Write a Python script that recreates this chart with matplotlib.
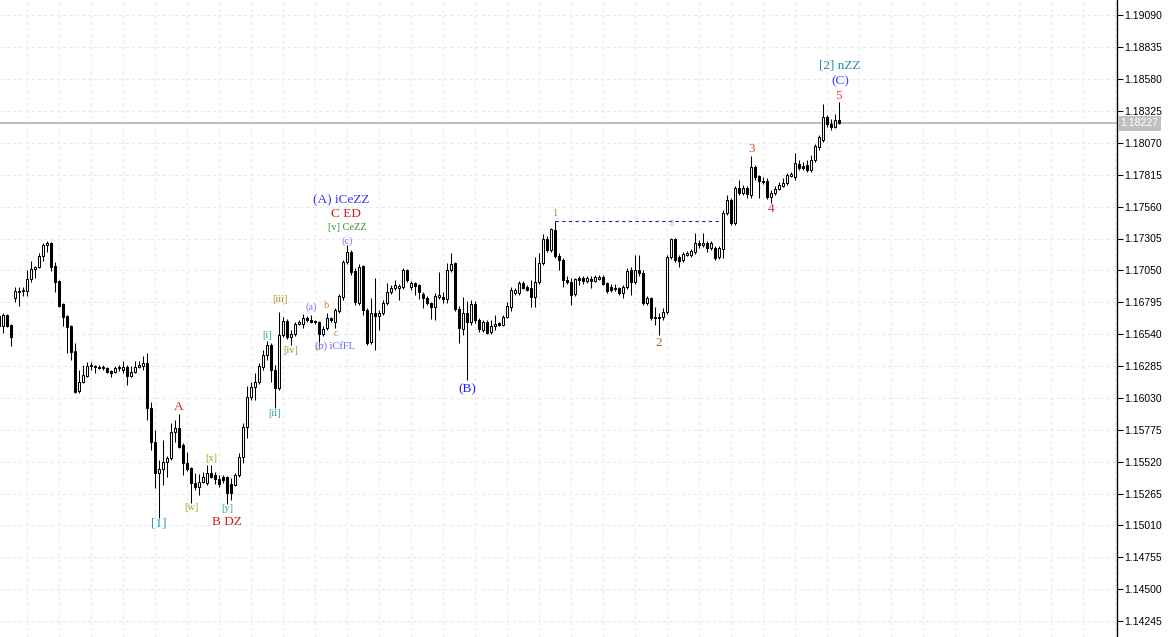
import numpy as np
import matplotlib
matplotlib.use('Agg')
import matplotlib.pyplot as plt
from matplotlib.transforms import blended_transform_factory

# -------------------- Data --------------------
FIRST_BAR = -1   # first bar is only half visible at the left edge

opens = [
    1.16685, 1.16605, 1.16693, 1.16613, 1.16829, 1.16885, 1.16885, 1.16885, 1.16981, 1.17061,
    1.17077, 1.17165, 1.17253, 1.17269, 1.17085, 1.16965, 1.16781, 1.16685, 1.16605, 1.16405,
    1.16085, 1.16157, 1.16205, 1.16285, 1.16285, 1.16277, 1.16277, 1.16269, 1.16245, 1.16237,
    1.16269, 1.16253, 1.16277, 1.16205, 1.16237, 1.16277, 1.16285, 1.16309, 1.15949, 1.15677,
    1.15429, 1.15461, 1.15517, 1.15549, 1.15757, 1.15789, 1.15653, 1.15509, 1.15469, 1.15349,
    1.15317, 1.15357, 1.15349, 1.15429, 1.15413, 1.15381, 1.15397, 1.15397, 1.15341, 1.15333,
    1.15413, 1.15557, 1.15797, 1.16037, 1.16117, 1.16157, 1.16277, 1.16373, 1.16453, 1.16253,
    1.16109, 1.16533, 1.16645, 1.16517, 1.16541, 1.16621, 1.16621, 1.16669, 1.16653, 1.16645,
    1.16637, 1.16541, 1.16589, 1.16669, 1.16637, 1.16725, 1.16837, 1.17117, 1.17197, 1.17045,
    1.16789, 1.17085, 1.16733, 1.16477, 1.16709, 1.16685, 1.16709, 1.16789, 1.16877, 1.16909,
    1.16909, 1.16917, 1.17053, 1.16917, 1.16949, 1.16933, 1.16861, 1.16829, 1.16789, 1.16757,
    1.16837, 1.16837, 1.16821, 1.17053, 1.17109, 1.16741, 1.16581, 1.16709, 1.16637, 1.16781,
    1.16653, 1.16573, 1.16637, 1.16557, 1.16605, 1.16629, 1.16613, 1.16677, 1.16757, 1.16869,
    1.16869, 1.16949, 1.16917, 1.16909, 1.16837, 1.16957, 1.17109, 1.17301, 1.17213, 1.17373,
    1.17165, 1.17133, 1.16973, 1.16957, 1.16861, 1.16989, 1.16989, 1.16965, 1.16981, 1.16965,
    1.16981, 1.16997, 1.16949, 1.16917, 1.16909, 1.16909, 1.16869, 1.16917, 1.17053, 1.16957,
    1.17053, 1.17029, 1.16789, 1.16829, 1.16677, 1.16677, 1.16677, 1.16717, 1.17157, 1.17301,
    1.17157, 1.17133, 1.17173, 1.17173, 1.17197, 1.17269, 1.17253, 1.17269, 1.17229, 1.17229,
    1.17157, 1.17221, 1.17509, 1.17613, 1.17429, 1.17709, 1.17669, 1.17709, 1.17653, 1.17877,
    1.17805, 1.17765, 1.17765, 1.17637, 1.17669, 1.17701, 1.17725, 1.17749, 1.17805, 1.17797,
    1.17901, 1.17885, 1.17893, 1.17853, 1.17933, 1.18037, 1.18093, 1.18277, 1.18221, 1.18197,
    1.18253,
]
highs = [
    1.16717, 1.16709, 1.16701, 1.16621, 1.16917, 1.16917, 1.16917, 1.17053, 1.17125, 1.17085,
    1.17189, 1.17269, 1.17285, 1.17277, 1.17117, 1.16973, 1.16789, 1.16693, 1.16613, 1.16469,
    1.16253, 1.16293, 1.16317, 1.16317, 1.16293, 1.16293, 1.16293, 1.16277, 1.16253, 1.16285,
    1.16293, 1.16325, 1.16293, 1.16285, 1.16325, 1.16325, 1.16365, 1.16389, 1.15997, 1.15773,
    1.15533, 1.15693, 1.15565, 1.15829, 1.15853, 1.15901, 1.15669, 1.15597, 1.15477, 1.15429,
    1.15421, 1.15437, 1.15493, 1.15493, 1.15437, 1.15413, 1.15413, 1.15405, 1.15389, 1.15429,
    1.15589, 1.15829, 1.16125, 1.16157, 1.16229, 1.16309, 1.16413, 1.16485, 1.16469, 1.16293,
    1.16717, 1.16677, 1.16661, 1.16573, 1.16637, 1.16653, 1.16701, 1.16685, 1.16693, 1.16653,
    1.16645, 1.16605, 1.16709, 1.16677, 1.16749, 1.16861, 1.17133, 1.17253, 1.17213, 1.17069,
    1.17101, 1.17093, 1.16749, 1.16829, 1.16989, 1.16733, 1.16813, 1.16949, 1.16933, 1.16973,
    1.16941, 1.17069, 1.17061, 1.16965, 1.16957, 1.16941, 1.16877, 1.16845, 1.16797, 1.16869,
    1.17037, 1.16877, 1.17109, 1.17189, 1.17117, 1.16765, 1.16837, 1.16805, 1.16813, 1.16805,
    1.16669, 1.16653, 1.16653, 1.16653, 1.16693, 1.16637, 1.16693, 1.16797, 1.16917, 1.16909,
    1.16965, 1.16965, 1.16933, 1.16973, 1.17157, 1.17189, 1.17341, 1.17325, 1.17389, 1.17445,
    1.17189, 1.17149, 1.17005, 1.16989, 1.16989, 1.17005, 1.17005, 1.17005, 1.17005, 1.17013,
    1.17013, 1.17013, 1.16957, 1.16941, 1.16941, 1.16917, 1.16933, 1.17069, 1.17077, 1.17173,
    1.17173, 1.17053, 1.16845, 1.16837, 1.16757, 1.16709, 1.16749, 1.17173, 1.17309, 1.17309,
    1.17173, 1.17197, 1.17205, 1.17221, 1.17349, 1.17293, 1.17349, 1.17285, 1.17285, 1.17245,
    1.17245, 1.17533, 1.17653, 1.17629, 1.17725, 1.17773, 1.17733, 1.17725, 1.17965, 1.17893,
    1.17813, 1.17797, 1.17789, 1.17693, 1.17725, 1.17757, 1.17789, 1.17829, 1.17837, 1.17989,
    1.17933, 1.17917, 1.17933, 1.17973, 1.18061, 1.18133, 1.18381, 1.18293, 1.18261, 1.18301,
    1.18397,
]
lows = [
    1.16573, 1.16549, 1.16597, 1.16445, 1.16797, 1.16765, 1.16845, 1.16845, 1.16957, 1.16989,
    1.17069, 1.17125, 1.17197, 1.17045, 1.16877, 1.16757, 1.16605, 1.16389, 1.16333, 1.16069,
    1.16069, 1.16149, 1.16197, 1.16253, 1.16229, 1.16261, 1.16253, 1.16229, 1.16197, 1.16229,
    1.16245, 1.16229, 1.16133, 1.16197, 1.16229, 1.16269, 1.16253, 1.15853, 1.15613, 1.15309,
    1.15069, 1.15333, 1.15397, 1.15533, 1.15677, 1.15629, 1.15413, 1.15445, 1.15189, 1.15293,
    1.15253, 1.15349, 1.15333, 1.15389, 1.15341, 1.15317, 1.15349, 1.15181, 1.15213, 1.15325,
    1.15397, 1.15509, 1.15709, 1.16013, 1.16013, 1.16141, 1.16253, 1.16333, 1.16157, 1.15949,
    1.16093, 1.16517, 1.16501, 1.16453, 1.16525, 1.16613, 1.16589, 1.16637, 1.16629, 1.16621,
    1.16453, 1.16525, 1.16573, 1.16637, 1.16589, 1.16709, 1.16813, 1.17101, 1.17013, 1.16773,
    1.16773, 1.16693, 1.16453, 1.16461, 1.16413, 1.16573, 1.16693, 1.16773, 1.16861, 1.16893,
    1.16813, 1.16901, 1.16957, 1.16893, 1.16853, 1.16821, 1.16749, 1.16773, 1.16661, 1.16653,
    1.16821, 1.16789, 1.16789, 1.17037, 1.16725, 1.16469, 1.16533, 1.16173, 1.16613, 1.16629,
    1.16557, 1.16557, 1.16541, 1.16541, 1.16573, 1.16605, 1.16605, 1.16669, 1.16725, 1.16853,
    1.16853, 1.16901, 1.16885, 1.16757, 1.16757, 1.16941, 1.17093, 1.17197, 1.17197, 1.17149,
    1.17053, 1.16917, 1.16941, 1.16773, 1.16845, 1.16933, 1.16941, 1.16949, 1.16909, 1.16957,
    1.16973, 1.16933, 1.16869, 1.16877, 1.16885, 1.16853, 1.16829, 1.16901, 1.16853, 1.16941,
    1.17005, 1.16773, 1.16773, 1.16653, 1.16613, 1.16533, 1.16653, 1.16701, 1.17141, 1.17117,
    1.17077, 1.17117, 1.17165, 1.17157, 1.17181, 1.17229, 1.17237, 1.17197, 1.17213, 1.17133,
    1.17141, 1.17149, 1.17493, 1.17413, 1.17413, 1.17653, 1.17653, 1.17629, 1.17629, 1.17773,
    1.17629, 1.17741, 1.17621, 1.17589, 1.17653, 1.17693, 1.17717, 1.17733, 1.17797, 1.17773,
    1.17853, 1.17853, 1.17837, 1.17837, 1.17917, 1.18013, 1.18077, 1.18197, 1.18173, 1.18189,
    1.18221,
]
closes = [
    1.16605, 1.16693, 1.16605, 1.16517, 1.16885, 1.16877, 1.16893, 1.16981, 1.17061, 1.17077,
    1.17165, 1.17253, 1.17269, 1.17077, 1.16957, 1.16765, 1.16677, 1.16597, 1.16397, 1.16077,
    1.16157, 1.16213, 1.16285, 1.16293, 1.16277, 1.16269, 1.16269, 1.16237, 1.16229, 1.16269,
    1.16277, 1.16277, 1.16205, 1.16237, 1.16277, 1.16293, 1.16309, 1.15949, 1.15677, 1.15429,
    1.15461, 1.15517, 1.15549, 1.15757, 1.15789, 1.15637, 1.15509, 1.15461, 1.15349, 1.15317,
    1.15357, 1.15397, 1.15429, 1.15397, 1.15381, 1.15341, 1.15373, 1.15269, 1.15269, 1.15413,
    1.15557, 1.15797, 1.16037, 1.16117, 1.16157, 1.16285, 1.16373, 1.16453, 1.16253, 1.16109,
    1.16533, 1.16645, 1.16517, 1.16541, 1.16621, 1.16637, 1.16669, 1.16653, 1.16637, 1.16637,
    1.16541, 1.16581, 1.16669, 1.16653, 1.16733, 1.16845, 1.17117, 1.17197, 1.17037, 1.16797,
    1.17077, 1.16733, 1.16469, 1.16709, 1.16685, 1.16709, 1.16789, 1.16877, 1.16909, 1.16933,
    1.16925, 1.17053, 1.16973, 1.16949, 1.16925, 1.16877, 1.16829, 1.16789, 1.16757, 1.16845,
    1.16853, 1.16821, 1.17053, 1.17101, 1.16741, 1.16589, 1.16709, 1.16637, 1.16781, 1.16653,
    1.16581, 1.16637, 1.16549, 1.16605, 1.16621, 1.16613, 1.16677, 1.16765, 1.16893, 1.16893,
    1.16949, 1.16909, 1.16893, 1.16837, 1.16957, 1.17109, 1.17301, 1.17213, 1.17381, 1.17165,
    1.17133, 1.16973, 1.16957, 1.16853, 1.16981, 1.16973, 1.16965, 1.16989, 1.16965, 1.16997,
    1.16997, 1.16941, 1.16885, 1.16893, 1.16901, 1.16869, 1.16917, 1.17045, 1.16957, 1.17053,
    1.17029, 1.16789, 1.16829, 1.16669, 1.16669, 1.16669, 1.16717, 1.17157, 1.17301, 1.17133,
    1.17125, 1.17181, 1.17189, 1.17205, 1.17269, 1.17253, 1.17269, 1.17229, 1.17269, 1.17149,
    1.17229, 1.17509, 1.17613, 1.17429, 1.17709, 1.17669, 1.17709, 1.17661, 1.17877, 1.17797,
    1.17765, 1.17757, 1.17637, 1.17669, 1.17701, 1.17733, 1.17749, 1.17813, 1.17821, 1.17909,
    1.17869, 1.17869, 1.17853, 1.17933, 1.18045, 1.18117, 1.18277, 1.18221, 1.18197, 1.18253,
    1.18227,
]

PRICE_TICKS = [1.19090, 1.18835, 1.18580, 1.18325, 1.18070, 1.17815, 1.17560, 1.17305,
               1.17050, 1.16795, 1.16540, 1.16285, 1.16030, 1.15775, 1.15520, 1.15265,
               1.15010, 1.14755, 1.14500, 1.14245]
LAST_PRICE = 1.18227
LEVEL_PRICE = 1.17445          # dashed level from wave 1 high
LEVEL_BARS = (138, 179)

# (text, bar, price, colour, size)
wave_labels = [
    ('(A) iCeZZ', 84.4, 1.17613, '#3030ff', 9.5),
    ('C ED', 85.7, 1.17501, '#cc2020', 9.5),
    ('[v] CeZZ', 85.9, 1.17389, '#3a8a3a', 7.5),
    ('(c)', 85.9, 1.17285, '#7878ff', 7.5),
    ('[iii]', 69.2, 1.16813, '#a09020', 7.5),
    ('[i]', 65.9, 1.16533, '#20a0a0', 7.5),
    ('[iv]', 71.9, 1.16405, '#80a020', 7.5),
    ('[ii]', 67.7, 1.15901, '#20a0a0', 7.5),
    ('(a)', 76.9, 1.16757, '#7878ff', 7.5),
    ('b', 80.9, 1.16765, '#f08020', 7.5),
    ('c', 83.2, 1.16541, '#f08020', 7.5),
    ('a', 78.7, 1.16429, '#f08020', 7.5),
    ('(b) iCfFL', 83.0, 1.16445, '#6060ff', 7.5),
    ('A', 43.9, 1.15957, '#dd2020', 9.5),
    ('[x]', 51.9, 1.15541, '#a0a020', 7.5),
    ('[w]', 46.9, 1.15149, '#a0a020', 7.5),
    ('[y]', 55.9, 1.15141, '#20a0a0', 7.5),
    ('B DZ', 55.9, 1.15037, '#cc2020', 9.5),
    ('[1]', 38.9, 1.15021, '#20a0b0', 9.5),
    ('(B)', 115.9, 1.16101, '#2020ff', 9.5),
    ('1', 137.9, 1.17509, '#a08070', 7.5),
    ('2', 163.9, 1.16469, '#b06030', 9.5),
    ('3', 187.2, 1.18021, '#d05030', 9.5),
    ('4', 191.9, 1.17541, '#d03050', 9.5),
    ('5', 208.9, 1.18445, '#e05030', 9.5),
    ('(C)', 209.2, 1.18565, '#4040ff', 9.5),
    ('[2] nZZ', 209.2, 1.18685, '#2090a0', 9.5),
    ('8', 167.2, 1.17421, '#9fb4d8', 6),
]
# ---------------------------------------------------------------

W, H = 1171, 637
AXIS_X = 1117   # pixel column of the price scale

fig = plt.figure(figsize=(W / 100, H / 100), dpi=100)
fig.patch.set_facecolor('white')
ax = fig.add_axes([0, 0, AXIS_X / W, 1])

o = np.array(opens)
h = np.array(highs)
l = np.array(lows)
c = np.array(closes)
x = np.arange(FIRST_BAR, FIRST_BAR + len(o))
up = c >= o

# wicks, then bodies on top
ax.vlines(x, l, h, color='black', lw=0.75, zorder=3)
bottom = np.minimum(o, c)
height = np.maximum(np.abs(c - o), 0.000005)
ax.bar(x[up], height[up], bottom=bottom[up], width=0.5, color='white',
       edgecolor='black', linewidth=0.75, zorder=4)
ax.bar(x[~up], height[~up], bottom=bottom[~up], width=0.5, color='black',
       edgecolor='black', linewidth=0.75, zorder=4)

# current price line and dashed level
ax.axhline(LAST_PRICE, color='#c0c0c0', lw=1.5, zorder=1)
ax.hlines(LEVEL_PRICE, LEVEL_BARS[0], LEVEL_BARS[1], colors='#1a1ac8',
          linestyles=(0, (3, 3)), lw=0.8, zorder=2)

for text, bx, py, col, size in wave_labels:
    ax.text(bx, py, text, color=col, fontsize=size, ha='center', va='center',
            family=['Liberation Serif', 'DejaVu Serif'], zorder=5)

# scale: 4 px per bar, price range matching the screenshot
ax.set_xlim(-0.825, (AXIS_X - 3.3) / 4)
ax.set_ylim(1.14117, 1.19213)

ax.set_xticks(range(6, 279, 8))
ax.set_yticks(PRICE_TICKS)
ax.set_yticklabels([f'{t:.5f}' for t in PRICE_TICKS])
ax.yaxis.tick_right()
ax.tick_params(axis='x', length=0, labelbottom=False)
ax.tick_params(axis='y', length=4, width=0.75, pad=1, labelsize=7.5,
               direction='out', colors='black')
for lab in ax.get_yticklabels():
    lab.set_family(['Liberation Sans', 'DejaVu Sans'])
ax.grid(True, color='#e8e8e8', linestyle=(0, (3, 3)), lw=0.75, zorder=0)
ax.set_axisbelow(True)

for side in ['left', 'top', 'bottom']:
    ax.spines[side].set_visible(False)
ax.spines['right'].set_color('black')
ax.spines['right'].set_linewidth(1)

# last price tag on the scale
trans = blended_transform_factory(ax.transAxes, ax.transData)
ax.text(1.003, LAST_PRICE, f'{LAST_PRICE:.5f}', transform=trans, ha='left', va='center',
        color='white', fontsize=7.5, family=['Liberation Sans', 'DejaVu Sans'],
        bbox=dict(facecolor='#c0c0c0', edgecolor='none', pad=1.8), clip_on=False, zorder=6)

fig.savefig('out.png', dpi=100)
